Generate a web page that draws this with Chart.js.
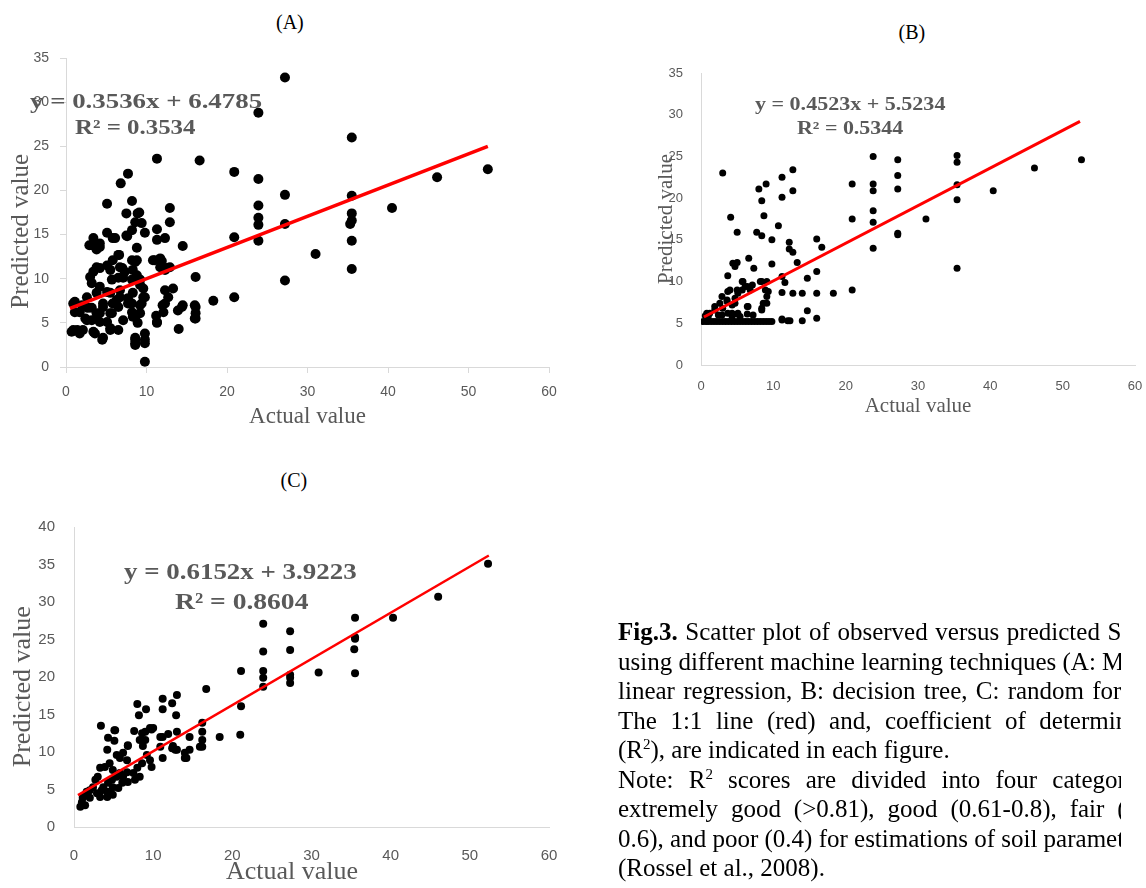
<!DOCTYPE html>
<html>
<head>
<meta charset="utf-8">
<script src="https://cdn.jsdelivr.net/npm/chart.js@4.4.1/dist/chart.umd.min.js"></script>
<style>
  html, body { margin: 0; padding: 0; background: #fff; width: 1146px; height: 888px; overflow: hidden; position: relative; }
  canvas { position: absolute; }
  .lbl { position: absolute; font-family: "Liberation Serif", "Times New Roman", serif; white-space: nowrap; }
  .panel { font-size: 20px; color: #000; }
  .eq { font-weight: bold; color: #595959; transform-origin: 0 50%; }
  #caption { position: absolute; left: 618px; top: 0; width: 503px; height: 888px; overflow: hidden; }
  .cap { position: absolute; left: 0; font-family: "Liberation Serif", "Times New Roman", serif;
         font-size: 25px; line-height: 29.5px; white-space: nowrap; color: #000; }
  .cap sup { font-size: 60%; line-height: 0; }
</style>
</head>
<body>
<canvas id="chartA" width="575" height="395" style="left:0;top:40px"></canvas>
<canvas id="chartB" width="506" height="365" style="left:640px;top:60px"></canvas>
<canvas id="chartC" width="575" height="383" style="left:0;top:505px"></canvas>

<div class="lbl panel" id="panelA">(A)</div>
<div class="lbl panel" id="panelB">(B)</div>
<div class="lbl panel" id="panelC">(C)</div>

<div class="lbl eq" id="eqA1" style="font-size:22px"></div>
<div class="lbl eq" id="eqA2" style="font-size:22px"></div>
<div class="lbl eq" id="eqB1" style="font-size:18px"></div>
<div class="lbl eq" id="eqB2" style="font-size:18px"></div>
<div class="lbl eq" id="eqC1" style="font-size:23px"></div>
<div class="lbl eq" id="eqC2" style="font-size:23px"></div>

<div id="caption">
<div class="cap" style="top:617px"><b>Fig.3.</b><span style="word-spacing:1.4px"> Scatter plot of observed versus predicted SOC</span></div>
<div class="cap" style="top:647px">using different machine learning techniques (A: MLR,</div>
<div class="cap" style="top:676px;word-spacing:2px">linear regression, B: decision tree, C: random forest).</div>
<div class="cap" style="top:706px;word-spacing:7.3px">The 1:1 line (red) and, coefficient of determination</div>
<div class="cap" style="top:735px">(R<sup>2</sup>), are indicated in each figure.</div>
<div class="cap" style="top:765px;word-spacing:8.9px">Note: R<sup>2</sup> scores are divided into four categories:</div>
<div class="cap" style="top:794px;word-spacing:6.7px">extremely good (&gt;0.81), good (0.61-0.8), fair (0.4-</div>
<div class="cap" style="top:824px">0.6), and poor (0.4) for estimations of soil parameters</div>
<div class="cap" style="top:853px">(Rossel et al., 2008).</div>
</div>

<script>
// axis ticks
const xTicks = [0, 10, 20, 30, 40, 50, 60];
const yTicksAB = [0, 5, 10, 15, 20, 25, 30, 35];
const yTicksC = [0, 5, 10, 15, 20, 25, 30, 35, 40];

// (A) [actual, predicted]
const pointsA = [
  [27.2,32.8],[35.5,26.0],[27.2,19.5],[35.5,19.4],[40.5,18.0],[46.1,21.5],[52.4,22.4],[27.2,16.2],
  [35.5,17.4],[35.5,16.6],[35.3,16.2],[35.5,14.3],[31.0,12.8],[35.5,11.1],[27.2,9.8],
  [23.9,28.8],[23.9,21.3],[20.9,22.1],[23.9,18.3],[23.9,16.9],[23.9,16.1],[23.9,14.3],[20.9,14.7],
  [20.9,7.9],[18.3,7.5],[16.6,23.4],[11.3,23.6],[16.1,10.2],[16.1,6.8],[16.1,6.1],[16.1,5.5],
  [14.5,13.7],[14.4,6.8],[13.9,6.4],[14.0,4.3],[12.9,18.0],[12.9,16.4],[11.3,15.6],[11.3,14.4],
  [12.3,14.6],[11.0,12.1],[11.9,12.0],[12.3,11.0],[12.9,11.3],[13.3,8.9],[12.3,8.7],[12.7,7.9],
  [12.3,7.2],[12.1,6.2],[11.2,5.8],[11.3,5.0],[9.8,3.8],[9.8,2.7],[9.8,0.6],[8.6,3.3],[8.6,2.7],
  [9.8,15.2],[9.4,16.3],[8.9,17.4],[8.2,18.8],[7.7,21.9],[6.8,20.8],[5.1,18.5],[7.5,17.4],
  [8.2,15.5],[7.5,14.9],[8.8,13.5],[6.1,14.6],[5.1,15.2],[4.2,14.0],[3.4,14.6],[3.2,13.8],
  [3.8,13.3],[6.5,12.7],[8.2,12.1],[8.6,11.9],[7.0,11.2],[5.5,11.0],[4.2,11.2],[3.4,10.8],
  [3.0,10.2],[6.5,10.1],[8.2,9.9],[9.2,9.3],[4.2,9.1],[5.1,8.5],[6.7,7.9],[7.7,7.8],[9.6,7.9],
  [9.2,7.0],[8.2,7.2],[5.8,7.2],[4.6,6.8],[5.5,6.1],[6.5,6.8],[3.8,6.1],[2.7,6.7],[2.0,7.0],
  [0.9,7.2],[1.1,6.2],[2.4,5.5],[3.2,5.3],[4.2,5.1],[7.1,5.3],[8.3,5.7],[8.9,5.0],[1.4,4.2],
  [0.7,4.0],[1.7,3.8],[3.6,3.8],[4.6,3.3],[5.5,4.2],[6.5,4.2],
  [9.1,17.5],[8.6,16.4],[7.6,14.8],[5.8,14.6],[2.9,13.8],[4.2,13.6],[6.6,12.7],[5.8,12.1],
  [8.8,12.1],[10.8,12.1],[11.7,12.3],[11.7,11.3],[12.5,11.2],[3.8,11.3],[5.1,11.5],[6.7,11.3],
  [7.3,10.8],[8.3,11.0],[8.8,10.4],[3.2,9.5],[5.7,9.9],[7.1,10.1],[9.2,9.9],[9.6,8.9],[3.8,8.4],
  [5.5,8.4],[6.7,8.7],[8.3,8.4],[9.8,7.9],[1.1,7.4],[2.6,7.9],[4.6,7.2],[6.3,7.6],[7.7,7.2],
  [9.4,7.2],[12.0,7.0],[14.5,7.0],[16.0,7.0],[1.7,6.2],[3.2,6.7],[4.2,6.1],[5.7,6.1],[8.2,6.2],
  [9.2,6.1],[2.6,5.3],[3.8,5.5],[5.1,5.1],[8.6,5.7],[11.3,5.1],[16.0,5.5],[0.9,4.2],[2.1,4.2],
  [3.4,4.0],[5.5,4.4],[4.5,3.1],[8.6,3.1],[9.8,3.1],[8.6,2.5]
];
const trendA = [[0.5, 6.65], [52.4, 25.0]];

// (B)
const pointsB = [
  [3.0,23.0],[4.1,17.7],[5.0,15.9],[4.4,12.2],[5.0,12.3],[4.7,11.8],[3.7,10.7],[6.6,12.8],
  [7.3,11.6],[8.0,21.1],[9.0,21.7],[8.4,19.7],[8.7,17.9],[7.7,15.9],[8.4,15.5],[9.8,15.0],
  [10.7,16.7],[11.2,22.5],[11.2,20.1],[12.7,23.4],[12.7,20.9],[9.8,12.1],[12.2,14.7],[12.2,13.9],
  [12.7,13.5],[13.3,12.3],[16.0,15.1],[16.7,14.1],[16.0,11.2],[14.7,10.4],[20.9,21.7],[20.9,17.5],
  [20.9,9.0],[23.8,25.0],[23.8,21.7],[23.8,20.9],[23.8,18.5],[23.8,17.1],[23.8,14.0],[27.2,24.6],
  [27.2,22.7],[27.2,21.1],[27.2,15.8],[27.2,15.6],[18.3,8.6],[16.0,8.6],[14.0,8.6],[12.7,8.6],
  [11.6,9.9],[11.2,8.7],[14.7,6.5],[16.0,5.6],[14.0,5.3],[12.0,5.3],[11.2,5.5],[9.3,8.8],
  [9.1,10.0],[8.2,10.0],[8.4,6.8],[9.1,7.4],[6.4,7.0],[6.4,6.1],[5.7,10.0],[6.4,9.4],[6.8,9.0],
  [4.0,9.0],[5.0,9.0],[2.9,8.2],[3.6,7.8],[4.3,7.2],[4.7,7.4],[2.6,7.4],[3.0,6.8],[1.9,6.6],
  [2.4,6.0],[1.0,5.8],[0.8,6.2],[3.7,6.2],[5.0,6.1],[5.4,5.8],[4.3,5.8],[11.2,10.6],
  [35.4,25.1],[35.4,24.3],[52.6,24.6],[46.1,23.6],[40.4,20.9],[35.4,21.6],[35.4,19.8],[35.4,11.6],
  [31.1,17.5],
  [5.8,10.0],[6.1,9.4],[7.1,9.6],[5.7,9.0],[3.7,8.8],[3.6,7.6],[4.7,8.0],[5.1,8.6],[8.4,10.0],
  [8.9,9.0],[9.1,8.2],[8.6,7.4],[6.5,7.0],[8.4,6.6],[5.1,6.2],[4.3,6.2],[2.9,6.0],[7.2,6.0],
  [1.9,7.0],[1.2,6.2],[0.6,5.9],
  [0.3,5.2],[0.7,5.2],[1.0,5.2],[1.4,5.2],[1.8,5.2],[2.2,5.2],[2.6,5.2],[3.0,5.2],[3.4,5.2],
  [3.8,5.2],[4.2,5.2],[4.6,5.2],[5.0,5.2],[5.4,5.2],[5.8,5.2],[6.2,5.2],[6.6,5.2],[7.0,5.2],
  [7.4,5.2],[7.8,5.2],[8.2,5.2],[8.6,5.2],[9.0,5.2],[9.4,5.2],[9.8,5.2],[11.2,5.4],[12.3,5.3]
];
const trendB = [[0.4, 5.75], [52.4, 29.2]];

// (C)
const pointsC = [
  [52.3,35.1],[46.0,30.7],[40.3,27.9],[35.5,27.9],[35.5,25.3],[35.5,25.1],[35.4,23.7],[35.5,20.5],
  [30.9,20.6],[27.3,26.1],[27.3,23.6],[27.3,20.3],[27.3,19.9],[27.3,19.2],[23.9,27.1],[23.9,23.4],
  [23.9,20.8],[23.9,19.9],[23.9,18.7],[21.1,20.8],[21.1,16.1],[16.7,18.4],[21.0,12.3],[18.4,12.0],
  [13.0,17.6],[11.2,17.1],[12.4,16.5],[11.2,15.7],[12.9,14.9],[8.0,16.4],[9.1,15.7],[8.2,14.9],
  [3.4,13.5],[5.1,12.9],[4.3,11.9],[5.1,11.5],[7.6,12.8],[8.6,12.5],[9.6,13.2],[9.8,13.0],
  [10.9,12.0],[11.9,12.4],[13.0,12.7],[14.6,12.0],[16.2,13.9],[16.2,12.7],[16.2,11.6],[16.2,10.7],
  [9.0,11.6],[8.7,10.8],[6.8,10.8],[4.2,10.3],[5.4,9.6],[6.2,9.9],[5.8,9.2],[6.7,8.9],[10.9,10.7],
  [12.4,10.5],[12.5,10.8],[14.0,9.9],[14.2,9.2],[13.0,10.3],[9.2,9.6],[9.6,8.9],[9.8,8.0],
  [8.6,8.5],[8.0,7.9],[7.5,7.2],[7.7,6.3],[8.3,6.7],[4.5,8.5],[3.9,8.0],[3.3,7.9],[4.9,7.6],
  [5.8,7.2],[6.7,7.3],[6.2,6.7],[5.4,6.7],[4.8,6.3],[4.3,5.9],[3.7,5.3],[3.0,6.7],[2.7,6.3],
  [2.4,5.3],[2.0,4.9],[1.6,4.7],[1.4,4.3],[1.1,3.9],[1.0,3.3],[0.8,2.7],[1.4,2.9],[2.0,3.9],
  [2.9,4.5],[3.5,4.9],[4.2,4.7],[4.9,5.3],[5.6,5.2],[6.1,5.9],[6.8,6.0],[3.3,4.0],[4.2,4.0],
  [4.9,4.3],[11.2,9.2],[14.0,9.2],[15.9,10.7],[14.6,10.3],[12.8,10.3],[11.2,12.0],[9.0,12.7],
  [10.0,13.2],[6.8,10.9],[8.3,11.6],[5.2,12.9]
];
const trendC = [[0.5, 4.25], [52.4, 36.2]];

const equations = {
  A: ['y = 0.3536x + 6.4785', 'R² = 0.3534'],
  B: ['y = 0.4523x + 5.5234', 'R² = 0.5344'],
  C: ['y = 0.6152x + 3.9223', 'R² = 0.8604']
};

const grey = '#595959';
const axisGrey = '#d9d9d9';
const toXY = arr => arr.map(p => ({ x: p[0], y: p[1] }));
// trailing spaces nudge a centred title toward the start of the axis
const pad = (s, n) => s + ' '.repeat(n);

function makeChart(id, points, trend, yTicks, o) {
  const ctx = document.getElementById(id).getContext('2d');
  return new Chart(ctx, {
    type: 'scatter',
    data: {
      datasets: [
        {
          data: toXY(trend),
          showLine: true,
          borderColor: '#ff0000',
          borderWidth: o.lineWidth,
          pointRadius: 0
        },
        {
          data: toXY(points),
          backgroundColor: '#000',
          borderWidth: 0,
          pointRadius: o.radius,
          pointHoverRadius: o.radius
        }
      ]
    },
    options: {
      responsive: false,
      animation: false,
      layout: { padding: o.pad },
      plugins: { legend: { display: false }, tooltip: { enabled: false } },
      scales: {
        x: {
          type: 'linear',
          min: xTicks[0],
          max: xTicks[xTicks.length - 1],
          ticks: { stepSize: xTicks[1] - xTicks[0], color: grey, padding: o.xPad,
                   font: { family: 'Liberation Sans', size: o.tickSize } },
          grid: { display: o.ticks, drawOnChartArea: false, drawTicks: o.ticks, tickLength: 6, color: axisGrey },
          border: { color: axisGrey, width: 1 },
          title: { display: true, text: pad('Actual value', o.xShift), color: grey,
                   font: { family: 'Liberation Serif', size: o.xTitle }, padding: { top: 0, bottom: o.xTitlePad } },
          afterFit: s => { s.height = o.xH; s.paddingLeft = 0; s.paddingRight = 0; }
        },
        y: {
          type: 'linear',
          min: yTicks[0],
          max: yTicks[yTicks.length - 1],
          ticks: { stepSize: yTicks[1] - yTicks[0], color: grey, padding: o.yPad,
                   font: { family: 'Liberation Sans', size: o.tickSize } },
          grid: { display: o.ticks, drawOnChartArea: false, drawTicks: o.ticks, tickLength: 6, color: axisGrey },
          border: { color: axisGrey, width: 1 },
          title: { display: true, text: pad('Predicted value', o.yShift), color: grey,
                   font: { family: 'Liberation Serif', size: o.yTitle }, padding: { top: o.yTitlePad, bottom: 0 } },
          afterFit: s => { s.width = o.yW; s.paddingTop = 0; s.paddingBottom = 0; }
        }
      }
    }
  });
}

makeChart('chartA', pointsA, trendA, yTicksAB, {
  pad: { left: 0, top: 18, right: 26, bottom: 0 }, yW: 66, xH: 68,
  radius: 5, lineWidth: 3.5, ticks: true, tickSize: 14, xPad: 11, yPad: 11,
  xTitle: 23, xTitlePad: 4, yTitle: 25, yTitlePad: 6, xShift: 0, yShift: 6
});
makeChart('chartB', pointsB, trendB, yTicksAB, {
  pad: { left: 0, top: 13, right: 11, bottom: 0 }, yW: 61, xH: 60,
  radius: 3.5, lineWidth: 3, ticks: false, tickSize: 13, xPad: 14, yPad: 18,
  xTitle: 21, xTitlePad: 6, yTitle: 21, yTitlePad: 14, xShift: 0, yShift: 0
});
makeChart('chartC', pointsC, trendC, yTicksC, {
  pad: { left: 0, top: 22, right: 26, bottom: 0 }, yW: 74, xH: 61,
  radius: 4, lineWidth: 2.5, ticks: false, tickSize: 15, xPad: 20, yPad: 19,
  xTitle: 26, xTitlePad: 0, yTitle: 26, yTitlePad: 8, xShift: 6, yShift: 3
});

// text overlays
function placeCenter(id, cx, cy) {
  const el = document.getElementById(id);
  el.style.left = (cx - el.offsetWidth / 2) + 'px';
  el.style.top = (cy - el.offsetHeight / 2) + 'px';
}
function placeEq(id, text, left, cy, width) {
  const el = document.getElementById(id);
  el.textContent = text;
  el.style.left = left + 'px';
  el.style.top = (cy - el.offsetHeight / 2) + 'px';
  el.style.transform = 'scaleX(' + (width / el.offsetWidth) + ')';
}
placeCenter('panelA', 290, 22);
placeCenter('panelB', 912, 32);
placeCenter('panelC', 294, 480);
placeEq('eqA1', equations.A[0], 30, 101, 232);
placeEq('eqA2', equations.A[1], 75, 127, 121);
placeEq('eqB1', equations.B[0], 755, 104, 191);
placeEq('eqB2', equations.B[1], 797, 128, 106);
placeEq('eqC1', equations.C[0], 124, 572, 233);
placeEq('eqC2', equations.C[1], 175, 602, 133);
</script>
</body>
</html>
